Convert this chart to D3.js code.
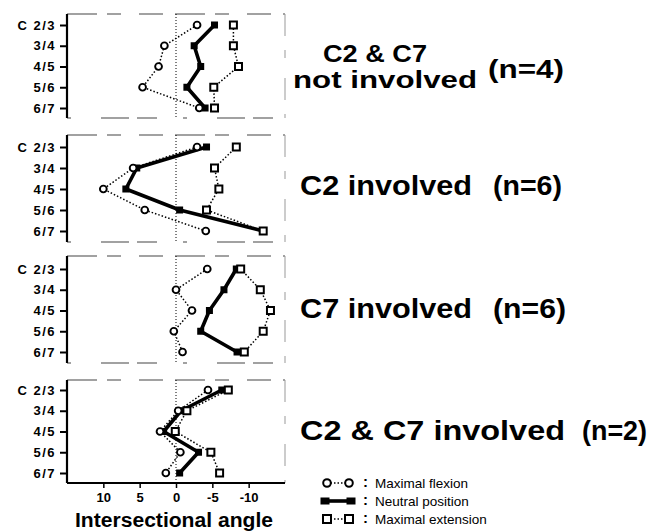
<!DOCTYPE html>
<html><head><meta charset="utf-8">
<script src="https://cdn.jsdelivr.net/npm/d3@7"></script>
<style>
html,body{margin:0;padding:0;background:#fff;}
svg{display:block;font-family:"Liberation Sans",Arial,Helvetica,sans-serif;}
</style></head>
<body>
<svg id="c" width="649" height="531"></svg>
<script>
// ---------- data ----------
const levels = ["C2/3","3/4","4/5","5/6","6/7"];
const levelLabels = ["C 2/3","3/4","4/5","5/6","6/7"];
const groups = ["C2 & C7 not involved","C2 involved","C7 involved","C2 & C7 involved"];
const groupN = [4,6,6,2];
// intersectional angle per level (C2/3 .. 6/7)
const flexion1   = [-2.9, 1.6, 2.4, 4.6, -3.2];
const neutral1   = [-5.3, -2.5, -3.4, -1.5, -4.0];
const extension1 = [-7.9, -7.9, -8.6, -5.2, -5.3];
const flexion2   = [-2.9, 5.9, 10.0, 4.3, -4.1];
const neutral2   = [-4.2, 5.4, 6.9, -0.5, -12.0];
const extension2 = [-8.3, -5.3, -5.9, -4.2, -12.0];
const flexion3   = [-4.3, 0.0, -2.2, 0.3, -0.9];
const neutral3   = [-8.3, -6.6, -4.6, -3.4, -8.4];
const extension3 = [-8.9, -11.6, -13.0, -12.0, -9.4];
const flexion4   = [-4.4, -0.3, 2.2, -0.6, 1.4];
const neutral4   = [-6.3, -0.7, 1.7, -3.1, -0.5];
const extension4 = [-7.2, -1.5, 0.1, -4.8, -6.0];
const xTicks = [10, 5, 0, -5, -10];
const xTickLabels = ["10","5","0","-5","-10"];
const legendLabels = ["Maximal flexion","Neutral position","Maximal extension"];
const xTitle = "Intersectional angle";

const seriesByPanel = [
  [flexion1, neutral1, extension1],
  [flexion2, neutral2, extension2],
  [flexion3, neutral3, extension3],
  [flexion4, neutral4, extension4]
];

// ---------- layout ----------
const panels = [
  {top:14,  bottom:118, r0:25,  r1:108},
  {top:135, bottom:242, r0:147, r1:231},
  {top:256, bottom:363, r0:269, r1:352},
  {top:380, bottom:483, r0:390, r1:473}
];
const titleLayout = [
  [{t:"C2 & C7", x:323, y:62, w:104, fs:23}, {t:"not involved", x:293, y:88, w:184, fs:23}, {t:"(n=" + groupN[0] + ")", x:488, y:78, w:76, fs:25}],
  [{t:"C2 involved", x:300, y:195, w:172, fs:28}, {t:"(n=" + groupN[1] + ")", x:493, y:195, w:69, fs:28}],
  [{t:"C7 involved", x:300, y:318, w:172, fs:28}, {t:"(n=" + groupN[2] + ")", x:493, y:318, w:73, fs:28}],
  [{t:"C2 & C7 involved", x:300, y:440, w:265, fs:28}, {t:"(n=" + groupN[3] + ")", x:582, y:440, w:65, fs:28}]
];

const svg = d3.select("#c");
const x = d3.scaleLinear().domain([15, -15]).range([67, 285]);
const left = x.range()[0], right = x.range()[1];

panels.forEach((p, i) => {
  const g = svg.append("g");
  const y = d3.scalePoint().domain(levels).range([p.r0, p.r1]);

  // frame: broken top / right / bottom
  g.append("line").attr("x1", left).attr("x2", right).attr("y1", p.top).attr("y2", p.top)
    .attr("stroke", "#444").attr("stroke-width", 1.2).attr("stroke-dasharray", "30,10,14,18,24,12");
  g.append("line").attr("x1", right).attr("x2", right).attr("y1", p.top).attr("y2", p.bottom)
    .attr("stroke", "#999").attr("stroke-width", 1).attr("stroke-dasharray", "22,14,8,20");
  if (i < 3) {
    g.append("line").attr("x1", left).attr("x2", right).attr("y1", p.bottom).attr("y2", p.bottom)
      .attr("stroke", "#444").attr("stroke-width", 1.2).attr("stroke-dasharray", "4,30,28,8,20,26");
  }

  // zero reference line
  g.append("line").attr("x1", x(0)).attr("x2", x(0)).attr("y1", p.top).attr("y2", p.bottom)
    .attr("stroke", "#000").attr("stroke-width", 1).attr("stroke-dasharray", "1,2");

  // y axis
  const ya = d3.axisLeft(y).tickSize(7).tickPadding(4).tickFormat((d, j) => levelLabels[j]);
  const yg = g.append("g").attr("transform", `translate(${left},0)`).call(ya);
  yg.select(".domain").attr("d", `M0,${p.top}V${p.bottom}`).attr("stroke", "#000").attr("stroke-width", 2.2);
  yg.selectAll(".tick line").attr("stroke", "#000").attr("stroke-width", 2);
  yg.selectAll(".tick text").attr("font-size", 13).attr("font-weight", "bold")
    .attr("letter-spacing", 1.5).attr("fill", "#000").attr("font-family", "Liberation Sans, Arial, sans-serif");

  // bottom axis (last panel only)
  if (i === 3) {
    const xa = d3.axisBottom(x).tickValues(xTicks).tickSize(5).tickPadding(5)
      .tickFormat((d, j) => xTickLabels[j]);
    const xg = g.append("g").attr("transform", `translate(0,${p.bottom})`).call(xa);
    xg.select(".domain").attr("d", `M${left},0H${right}`).attr("stroke", "#000").attr("stroke-width", 2.2);
    xg.selectAll(".tick line").attr("stroke", "#000").attr("stroke-width", 1.5);
    xg.selectAll(".tick text").attr("font-size", 13).attr("font-weight", "bold").attr("fill", "#000")
      .attr("font-family", "Liberation Sans, Arial, sans-serif");
  }

  const [flex, neut, ext] = seriesByPanel[i];
  const line = d3.line().x(d => x(d[0])).y(d => y(d[1]));
  const pts = arr => arr.map((v, j) => [v, levels[j]]);

  g.append("path").attr("d", line(pts(ext))).attr("fill", "none").attr("stroke", "#000")
    .attr("stroke-width", 1.5).attr("stroke-dasharray", "1.5,2");
  g.append("path").attr("d", line(pts(flex))).attr("fill", "none").attr("stroke", "#000")
    .attr("stroke-width", 1.5).attr("stroke-dasharray", "1.5,2");
  g.append("path").attr("d", line(pts(neut))).attr("fill", "none").attr("stroke", "#000")
    .attr("stroke-width", 3.6).attr("stroke-linejoin", "round");

  g.selectAll(".ns").data(pts(neut)).join("rect")
    .attr("x", d => x(d[0]) - 3.5).attr("y", d => y(d[1]) - 3.5)
    .attr("width", 7).attr("height", 7).attr("fill", "#000");
  g.selectAll(".es").data(pts(ext)).join("rect")
    .attr("x", d => x(d[0]) - 3.5).attr("y", d => y(d[1]) - 3.5)
    .attr("width", 7).attr("height", 7).attr("fill", "#fff").attr("stroke", "#000").attr("stroke-width", 2);
  g.selectAll(".fc").data(pts(flex)).join("circle")
    .attr("cx", d => x(d[0])).attr("cy", d => y(d[1])).attr("r", 3.4)
    .attr("fill", "#fff").attr("stroke", "#000").attr("stroke-width", 1.9);

  // titles
  titleLayout[i].forEach(t => {
    svg.append("text").attr("x", t.x).attr("y", t.y).text(t.t)
      .attr("font-size", t.fs).attr("font-weight", "bold").attr("fill", "#000")
      .attr("textLength", t.w).attr("lengthAdjust", "spacingAndGlyphs");
  });
});

// x title
svg.append("text").attr("x", x(0) - 2).attr("y", 527).attr("text-anchor", "middle")
  .attr("font-size", 20).attr("font-weight", "bold").attr("fill", "#000")
  .attr("textLength", 198).attr("lengthAdjust", "spacingAndGlyphs").text(xTitle);

// legend
const lg = svg.append("g");
const ly = [483, 501, 519];
const lx0 = 327, lx1 = 349;
legendLabels.forEach((lab, k) => {
  const yy = ly[k];
  if (k === 1) {
    lg.append("line").attr("x1", lx0).attr("x2", lx1).attr("y1", yy).attr("y2", yy)
      .attr("stroke", "#000").attr("stroke-width", 3.6);
    [lx0 - 2, lx1 + 2].forEach(cx => lg.append("rect").attr("x", cx - 4.5).attr("y", yy - 3.5)
      .attr("width", 9).attr("height", 7).attr("fill", "#000"));
  } else {
    lg.append("line").attr("x1", lx0).attr("x2", lx1).attr("y1", yy).attr("y2", yy)
      .attr("stroke", "#000").attr("stroke-width", 1.3).attr("stroke-dasharray", "1.5,2");
    [lx0, lx1].forEach(cx => {
      if (k === 0) lg.append("circle").attr("cx", cx).attr("cy", yy).attr("r", 3.8)
        .attr("fill", "#fff").attr("stroke", "#000").attr("stroke-width", 2);
      else lg.append("rect").attr("x", cx - 4).attr("y", yy - 4).attr("width", 8).attr("height", 8)
        .attr("fill", "#fff").attr("stroke", "#000").attr("stroke-width", 2);
    });
  }
  lg.append("text").attr("x", 363).attr("y", yy + 4).text(":")
    .attr("font-size", 15).attr("font-weight", "bold").attr("fill", "#000");
  lg.append("text").attr("x", 375).attr("y", yy + 5).text(lab)
    .attr("font-size", 13.5).attr("fill", "#000");
});
</script>
</body></html>
